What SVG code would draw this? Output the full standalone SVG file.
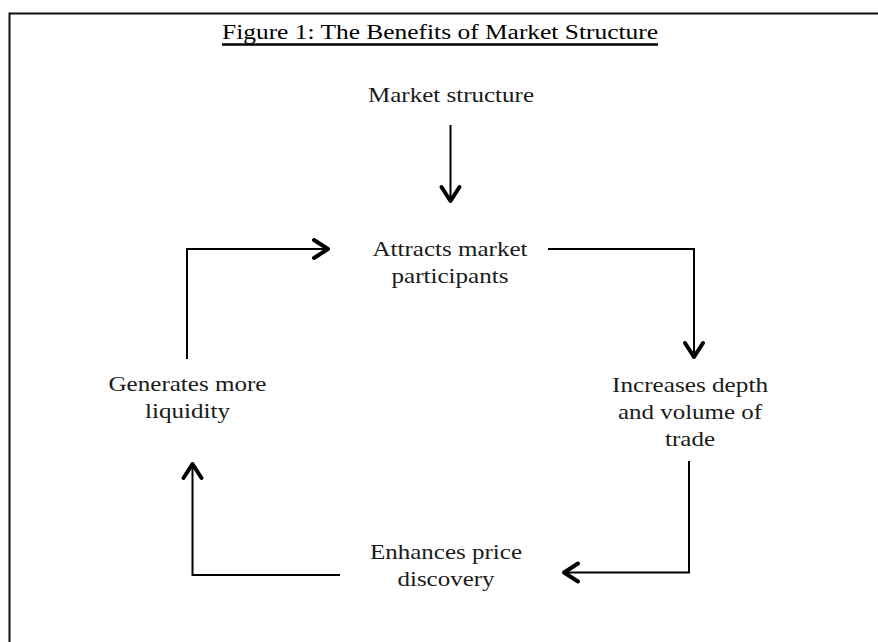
<svg xmlns="http://www.w3.org/2000/svg" width="878" height="642" viewBox="0 0 878 642">
<defs>
<style>
.t{font-family:"Liberation Serif","Times New Roman",serif;font-size:22px;fill:#1a1a1a;text-anchor:middle}
.title{font-family:"Liberation Serif","Times New Roman",serif;font-size:20px;fill:#000;text-anchor:middle}
.c{fill:none;stroke:#000;stroke-width:2}
</style>
<marker id="ah" markerUnits="userSpaceOnUse" markerWidth="30" markerHeight="30" viewBox="-20 -15 30 30" refX="0" refY="0" orient="auto" overflow="visible">
<path d="M-15,-9 L-1,0 L-15,9" fill="none" stroke="#000" stroke-width="4" stroke-linecap="round" stroke-linejoin="round"/>
</marker>
</defs>
<rect width="878" height="642" fill="#fff"/>
<rect x="9.5" y="13.5" width="900" height="700" fill="none" stroke="#111" stroke-width="2"/>
<g id="title">
<text class="title" x="440" y="39" textLength="436" lengthAdjust="spacingAndGlyphs">Figure 1: The Benefits of Market Structure</text>
<line x1="222" y1="44.5" x2="658" y2="44.5" stroke="#000" stroke-width="2.5"/>
</g>
<g id="market-structure">
<text class="t" x="451" y="102" textLength="166" lengthAdjust="spacingAndGlyphs">Market structure</text>
</g>
<g id="attracts">
<text class="t" x="450" y="256" textLength="155" lengthAdjust="spacingAndGlyphs">Attracts market</text>
<text class="t" x="450" y="283" textLength="117" lengthAdjust="spacingAndGlyphs">participants</text>
</g>
<g id="increases">
<text class="t" x="690" y="392" textLength="156" lengthAdjust="spacingAndGlyphs">Increases depth</text>
<text class="t" x="690" y="419" textLength="144" lengthAdjust="spacingAndGlyphs">and volume of</text>
<text class="t" x="690" y="446" textLength="50" lengthAdjust="spacingAndGlyphs">trade</text>
</g>
<g id="enhances">
<text class="t" x="446" y="559" textLength="152" lengthAdjust="spacingAndGlyphs">Enhances price</text>
<text class="t" x="446" y="586" textLength="97" lengthAdjust="spacingAndGlyphs">discovery</text>
</g>
<g id="generates">
<text class="t" x="187.5" y="391" textLength="158" lengthAdjust="spacingAndGlyphs">Generates more</text>
<text class="t" x="187.5" y="418" textLength="85" lengthAdjust="spacingAndGlyphs">liquidity</text>
</g>
<g id="connectors">
<path class="c" d="M450.5,125 V202" marker-end="url(#ah)"/>
<path class="c" d="M548,249 H694 V358" marker-end="url(#ah)"/>
<path class="c" d="M689,461 V572.5 H563" marker-end="url(#ah)"/>
<path class="c" d="M340,575 H192.5 V463" marker-end="url(#ah)"/>
<path class="c" d="M187,359 V249 H329" marker-end="url(#ah)"/>
</g>
</svg>
